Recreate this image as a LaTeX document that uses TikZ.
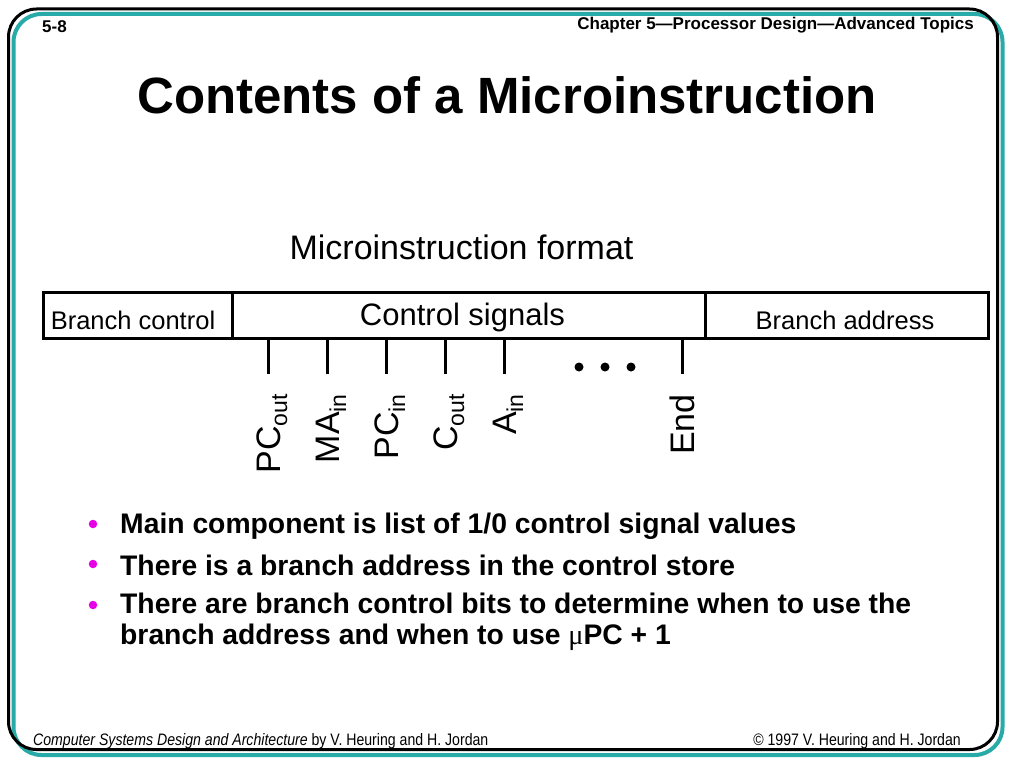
\documentclass[tikz,border=0pt]{standalone}
\usepackage{fontspec}
\setmainfont{Liberation Sans}
\newfontfamily\greekfont{Liberation Serif}
\newfontfamily\narrowfont[FakeStretch=0.85]{Liberation Sans}
\usepackage{xcolor}
\usepackage{tikz}
\usetikzlibrary{positioning, calc}

\definecolor{frameteal}{RGB}{40,170,168}
\definecolor{bulletpink}{RGB}{230,0,230}
\newcommand{\sigsub}[1]{\raisebox{-7pt}{\fontsize{23}{23}\selectfont #1}}

\begin{document}
\begin{tikzpicture}[x=1pt, y=-1pt]
\tikzstyle{field} = [rectangle, draw=black, line width=3pt, minimum height=46pt, inner sep=0pt]
\tikzstyle{fieldtext} = [inner sep=0pt, font=\fontsize{25.5}{25.5}\selectfont]
\tikzstyle{sigline} = [line width=3pt]
\tikzstyle{signal} = [rotate=90, anchor=base east, inner sep=0pt, font=\fontsize{34}{34}\selectfont]
\tikzstyle{dot} = [circle, fill=black, inner sep=0pt, minimum size=9pt]
\tikzstyle{bullet} = [circle, fill=bulletpink, inner sep=0pt, minimum size=8.5pt]
\tikzstyle{item} = [anchor=west, inner sep=0pt, align=left, font=\bfseries\fontsize{28.3}{31}\selectfont]
\tikzstyle{footer} = [inner sep=0pt, font=\narrowfont\fontsize{16.6}{16.6}\selectfont]

\useasboundingbox (0,0) rectangle (1024,768);

% Frame
\draw[frameteal, line width=4pt, rounded corners=28pt] (13.5,14) rectangle (1002.5,755);
\draw[black, line width=3pt, rounded corners=28pt] (8.5,9) rectangle (997.5,749.5);

% Header
\node[anchor=west, inner sep=0pt, font=\bfseries\fontsize{17}{17}\selectfont] (page) at (42,27) {5-8};
\node[anchor=east, inner sep=0pt, font=\bfseries\fontsize{17}{17}\selectfont] (chapter) at (974,25) {Chapter 5---Processor Design---Advanced Topics};
\node[font=\bfseries\fontsize{51}{51}\selectfont] (title) at (507,95) {Contents of a Microinstruction};

% Format
\node[font=\fontsize{34}{34}\selectfont] (format) at (461.5,247) {Microinstruction format};
\node[field, minimum width=189pt] (branchctrl) at (137.5,315) {};
\node[field, minimum width=473pt] (ctrlsig) at (468.5,315) {};
\node[field, minimum width=283pt] (branchaddr) at (846.5,315) {};
\node[fieldtext] (bctext) at (133,320) {Branch control};
\node[fieldtext, font=\fontsize{31}{31}\selectfont] (cstext) at (462.5,317) {Control signals};
\node[fieldtext] (batext) at (845,320) {Branch address};

% Signals
\coordinate (pcout top) at (268,338);
\coordinate (pcout bot) at (268,374);
\coordinate (main top) at (327,338);
\coordinate (main bot) at (327,374);
\coordinate (pcin top) at (386,338);
\coordinate (pcin bot) at (386,374);
\coordinate (cout top) at (445,338);
\coordinate (cout bot) at (445,374);
\coordinate (ain top) at (504,338);
\coordinate (ain bot) at (504,374);
\coordinate (end top) at (682,338);
\coordinate (end bot) at (682,374);

\node[signal] (pcout) at (280,394) {PC\sigsub{out}};
\node[signal] (main) at (339,394) {MA\sigsub{in}};
\node[signal] (pcin) at (398,394) {PC\sigsub{in}};
\node[signal] (cout) at (457,394) {C\sigsub{out}};
\node[signal] (ain) at (516,394) {A\sigsub{in}};
\node[signal] (end) at (694,394) {End};

\node[dot] (dot1) at (579,367) {};
\node[dot] (dot2) at (605,367) {};
\node[dot] (dot3) at (631,367) {};

% Bullets
\node[bullet] (b1) at (93,524) {};
\node[bullet] (b2) at (93,564) {};
\node[bullet] (b3) at (93,605) {};
\node[item] (item1) at (120,526) {Main component is list of 1/0 control signal values};
\node[item] (item2) at (120,565) {There is a branch address in the control store};
\node[item] (item3) at (120,622) {There are branch control bits to determine when to use the\\branch address and when to use {\greekfont\mdseries μ}PC + 1};

% Footer
\node[footer, anchor=base west] (book) at (33,745) {\textit{Computer Systems Design and Architecture} by V. Heuring and H. Jordan};
\node[footer, anchor=base east] (copy) at (961,745) {© 1997 V. Heuring and H. Jordan};

% Connections
\draw[sigline] (pcout top) -- (pcout bot);
\draw[sigline] (main top) -- (main bot);
\draw[sigline] (pcin top) -- (pcin bot);
\draw[sigline] (cout top) -- (cout bot);
\draw[sigline] (ain top) -- (ain bot);
\draw[sigline] (end top) -- (end bot);
\end{tikzpicture}
\end{document}
